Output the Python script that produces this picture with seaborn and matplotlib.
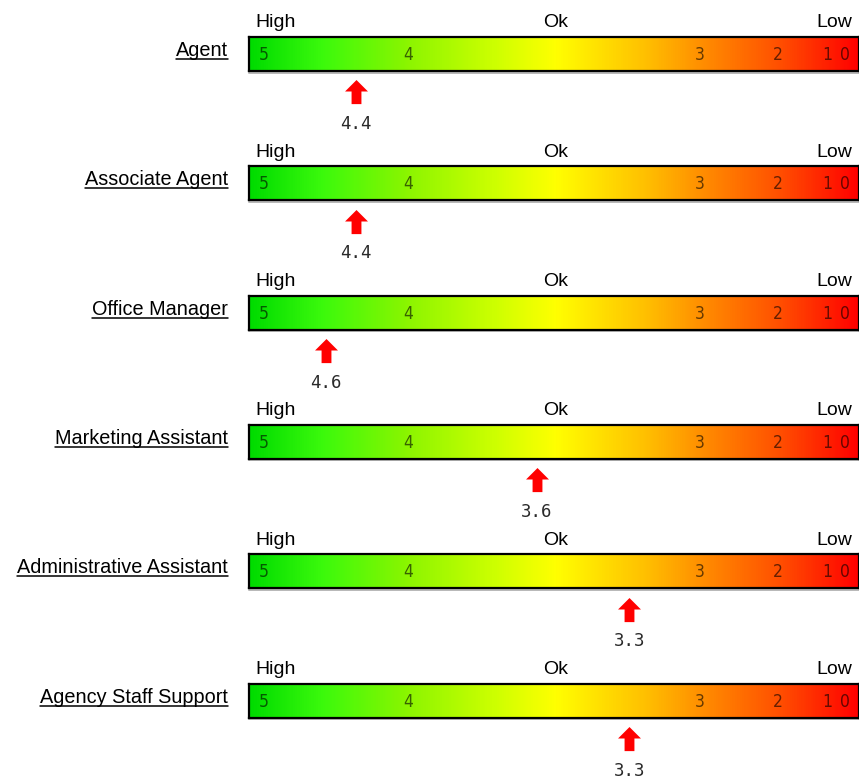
import numpy as np
import matplotlib
matplotlib.use("Agg")
import matplotlib.pyplot as plt
import seaborn as sns
from matplotlib.path import Path
from matplotlib.colors import LinearSegmentedColormap
from matplotlib.lines import Line2D

# ---------------- data ----------------
roles = ["Agent", "Associate Agent", "Office Manager", "Marketing Assistant",
         "Administrative Assistant", "Agency Staff Support"]
scores = [4.36, 4.36, 4.57, 3.60, 3.27, 3.27]
tick_values = [5, 4, 3, 2, 1, 0]
zone_labels = ["High", "Ok", "Low"]

# scale definition: score -> fraction along the bar (non-linear gauge)
score_knots = np.array([-0.78, 0.0, 1.0, 2.0, 3.0, 3.5, 4.0, 5.0, 5.104])
frac_knots = np.array([1.0, 0.977, 0.9475, 0.8672, 0.7393, 0.5246, 0.2607, 0.0246, 0.0])


def forward(x):
    # increasing in score; axis is inverted with xlim so 5 sits on the left
    return 1.0 - np.interp(x, score_knots, frac_knots)


def inverse(u):
    return np.interp(1.0 - np.asarray(u), frac_knots[::-1], score_knots[::-1])


# ---------------- style ----------------
sns.set_style("white")
plt.rcParams["font.family"] = ["Liberation Sans", "DejaVu Sans"]
plt.rcParams["text.color"] = "black"

W, H = 859, 779
fig = plt.figure(figsize=(W / 100, H / 100), dpi=100)

grad_cmap = LinearSegmentedColormap.from_list(
    "gauge",
    [(0.0, "#00dc00"), (0.12, "#3cfa0c"), (0.26, "#8cf500"), (0.40, "#ccff00"),
     (0.503, "#ffff00"), (0.65, "#ffc000"), (0.74, "#ff9000"), (0.87, "#ff5000"),
     (0.95, "#ff2000"), (1.0, "#ff0000")])
grad = np.linspace(0, 1, 600).reshape(1, -1)

arrow_path = Path([(0, 1.0), (1.0, 0.0), (0.43, 0.0), (0.43, -1.1), (-0.43, -1.1),
                   (-0.43, 0.0), (-1.0, 0.0), (0, 1.0)],
                  [Path.MOVETO] + [Path.LINETO] * 6 + [Path.CLOSEPOLY])

bar_left, bar_w, first_top, bar_h, pitch = 249, 610, 37, 34, 129.3

axes = []
label_texts = []
for i, (role, score) in enumerate(zip(roles, scores)):
    top = first_top + i * pitch
    ax = fig.add_axes([bar_left / W, 1 - (top + bar_h) / H, bar_w / W, bar_h / H])
    ax.set_xscale("function", functions=(forward, inverse))

    ax.imshow(grad, cmap=grad_cmap, aspect="auto", extent=[0, 1, 0, 1],
              transform=ax.transAxes, interpolation="bilinear", zorder=0)

    sns.scatterplot(x=[score], y=[-0.6], marker=arrow_path, s=330, color="#ff0000",
                    linewidth=0, ax=ax, clip_on=False, legend=False, zorder=5)

    ax.set_xlim(score_knots[-1], score_knots[0])
    ax.set_ylim(0, 1)
    ax.set_xticks([])
    ax.set_yticks([])
    ax.set_xlabel("")
    ax.set_ylabel("")
    for sp in ax.spines.values():
        sp.set_visible(True)
        sp.set_color("black")
        sp.set_linewidth(1.6)

    # shadow under the bar
    ax.add_line(Line2D([0.0, 1.0], [-0.045, -0.045], transform=ax.transAxes,
                       color="#b8b8b8", lw=1.4, clip_on=False))

    # tick numbers inside the bar
    for v in tick_values:
        ax.text(v, 0.47, str(v), ha="center", va="center", fontsize=12.5,
                color="black", alpha=0.6, family=["DejaVu Sans"],
                stretch="condensed")

    # zone labels above
    ax.text(0.0098, 1.285, zone_labels[0], transform=ax.transAxes, ha="left",
            va="baseline", fontsize=14, color="black")
    ax.text(0.503, 1.285, zone_labels[1], transform=ax.transAxes, ha="center",
            va="baseline", fontsize=14, color="black")
    ax.text(0.9885, 1.285, zone_labels[2], transform=ax.transAxes, ha="right",
            va="baseline", fontsize=14, color="black")

    # value below the arrow
    ax.text(score, -1.71, f"{score:.1f}", ha="center", va="baseline",
            fontsize=12.5, color="#2a2a2a", family=["DejaVu Sans Mono"])

    # role label on the left
    t = ax.text(-0.0344, 0.44, role, transform=ax.transAxes, ha="right",
                va="baseline", fontsize=14.3, color="black")
    axes.append(ax)
    label_texts.append(t)

# underline the role labels
fig.canvas.draw()
renderer = fig.canvas.get_renderer()
inv = fig.transFigure.inverted()
for ax, t in zip(axes, label_texts):
    bb = t.get_window_extent(renderer)
    yb = ax.transAxes.transform((0, 0.44))[1] - 3.0
    (x0, y0), (x1, y1) = inv.transform([(bb.x0, yb), (bb.x1, yb)])
    fig.add_artist(Line2D([x0, x1], [y0, y1], transform=fig.transFigure,
                          color="black", lw=1.1))

fig.savefig("out.png", dpi=100)
